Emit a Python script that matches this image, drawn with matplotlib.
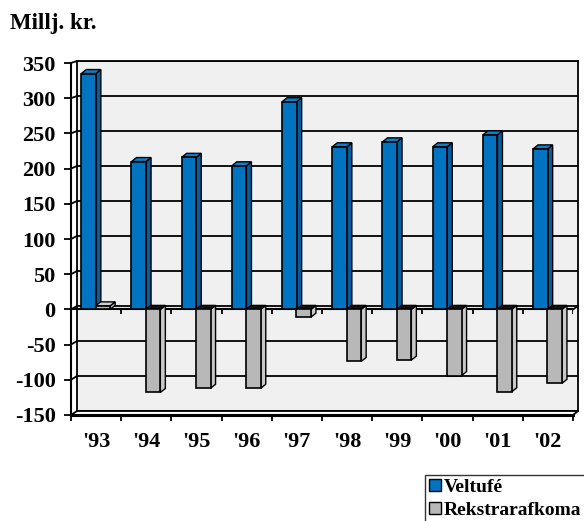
import matplotlib
matplotlib.use("Agg")
import matplotlib.pyplot as plt
from matplotlib.patches import Polygon, Patch
from matplotlib.lines import Line2D

years = ["'93", "'94", "'95", "'96", "'97", "'98", "'99", "'00", "'01", "'02"]
veltufe = [335, 210, 216, 204, 295, 231, 238, 231, 248, 228]
rekstrar = [5, -118, -112, -112, -11, -74, -72, -94, -117, -105]
yticks = [-150, -100, -50, 0, 50, 100, 150, 200, 250, 300, 350]
series_names = ["Veltufé", "Rekstrarafkoma"]

W, H = 584, 521
plt.rcParams['font.family'] = ['Liberation Serif', 'DejaVu Serif']
plt.rcParams['font.weight'] = 'bold'
fig = plt.figure(figsize=(W / 100, H / 100), dpi=100)
fig.patch.set_facecolor('white')

def fx(x):
    return x / W

def fy(y):
    return 1 - y / H

# front geometry (pixels)
FL, FR, FT, FB = 71, 573, 63, 415
# back wall geometry
BL, BR, BT, BB = 77, 578, 61, 411

ymin, ymax = -150, 350

# back wall axes
axb = fig.add_axes([fx(BL), fy(BB), (BR - BL) / W, (BB - BT) / H])
axb.set_facecolor('#f0f0f0')
axb.set_xlim(0, 1)
axb.set_ylim(ymin, ymax)
for v in yticks:
    axb.axhline(v, color='black', lw=1.3, zorder=1)
axb.set_xticks([])
axb.set_yticks([])
for s in axb.spines.values():
    s.set_color('black')
    s.set_linewidth(1.3)

# front axes
ax = fig.add_axes([fx(FL), fy(FB), (FR - FL) / W, (FB - FT) / H])
ax.patch.set_alpha(0)
n = len(years)
ax.set_xlim(0, n)
ax.set_ylim(ymin, ymax)
for side in ['top', 'right']:
    ax.spines[side].set_visible(False)
ax.spines['left'].set_linewidth(1.5)
ax.spines['bottom'].set_linewidth(2.2)
ax.set_yticks(yticks)
ax.set_yticklabels([str(v) for v in yticks], fontsize=16, fontweight='bold')
ax.tick_params(axis='y', length=5, width=1.3, pad=6)
ax.set_xticks(range(n + 1))
ax.set_xticklabels([])
ax.tick_params(axis='x', which='major', length=4.5, width=1.3, direction='out')
ax.set_xticks([i + 0.5 for i in range(n)], minor=True)
ax.set_xticklabels(years, minor=True, fontsize=16, fontweight='bold')
ax.tick_params(axis='x', which='minor', length=0, pad=12)

# zero floor lines
ax.axhline(0, color='black', lw=1.5, zorder=2)
ax.vlines(range(n + 1), -6, 0, color='black', lw=1.3, zorder=2)

# side-wall connectors (front ticks to back wall)
for v in yticks:
    yf = FT + (ymax - v) / (ymax - ymin) * (FB - FT)
    yb = BT + (ymax - v) / (ymax - ymin) * (BB - BT)
    fig.add_artist(Line2D([fx(FL), fx(BL)], [fy(yf), fy(yb)], color='black', lw=1.3))
yf0 = FT + (ymax - 0) / (ymax - ymin) * (FB - FT)
yb0 = BT + (ymax - 0) / (ymax - ymin) * (BB - BT)
fig.add_artist(Line2D([fx(FR), fx(BR)], [fy(yf0), fy(yb0)], color='black', lw=1.3))
fig.add_artist(Line2D([fx(FR), fx(BR)], [fy(FB), fy(BB)], color='black', lw=1.3))

# bars with faux 3D depth
bw = 0.29
px_per_x = (FR - FL) / n
px_per_y = (FB - FT) / (ymax - ymin)
ddx = 5 / px_per_x
ddy = 4 / px_per_y

def bar3d(x0, v, front, side, top, negtop):
    x1 = x0 + bw
    ax.bar(x0, v, width=bw, align='edge', color=front, edgecolor='black', lw=1.2, zorder=5)
    hi = max(v, 0)
    lo = min(v, 0)
    side_poly = [(x1, lo), (x1, hi), (x1 + ddx, hi + ddy), (x1 + ddx, lo + ddy)]
    ax.add_patch(Polygon(side_poly, closed=True, facecolor=side, edgecolor='black', lw=1.0, zorder=4))
    top_poly = [(x0, hi), (x1, hi), (x1 + ddx, hi + ddy), (x0 + ddx, hi + ddy)]
    ax.add_patch(Polygon(top_poly, closed=True, facecolor=(negtop if v < 0 else top),
                         edgecolor='black', lw=1.0, zorder=4))

for i in range(n):
    c = i + 0.5
    bar3d(c - bw - 0.005, veltufe[i], '#0074C0', '#005FA0', '#0A80CC', '#111111')
for i in range(n):
    c = i + 0.5
    bar3d(c - 0.01, rekstrar[i], '#B8B8B8', '#C8C8C8', '#D0D0D0', '#111111')

# title
fig.text(fx(10), fy(24), "Millj. kr.", fontsize=16.5, fontweight='bold', va='center', ha='left')

# legend
handles = [Patch(facecolor='#0074C0', edgecolor='black', lw=1.0),
           Patch(facecolor='#B8B8B8', edgecolor='black', lw=1.0)]
leg = fig.legend(handles, series_names, loc='upper left',
                 bbox_to_anchor=(fx(425), fy(475)),
                 prop={'weight': 'bold', 'size': 14},
                 frameon=True, fancybox=False, edgecolor='#333333', framealpha=1,
                 handlelength=0.6, handleheight=0.6, handletextpad=0.15,
                 labelspacing=0.3, borderpad=0.2, borderaxespad=0)
leg.get_frame().set_linewidth(1.0)

fig.savefig('out.png', dpi=100)
